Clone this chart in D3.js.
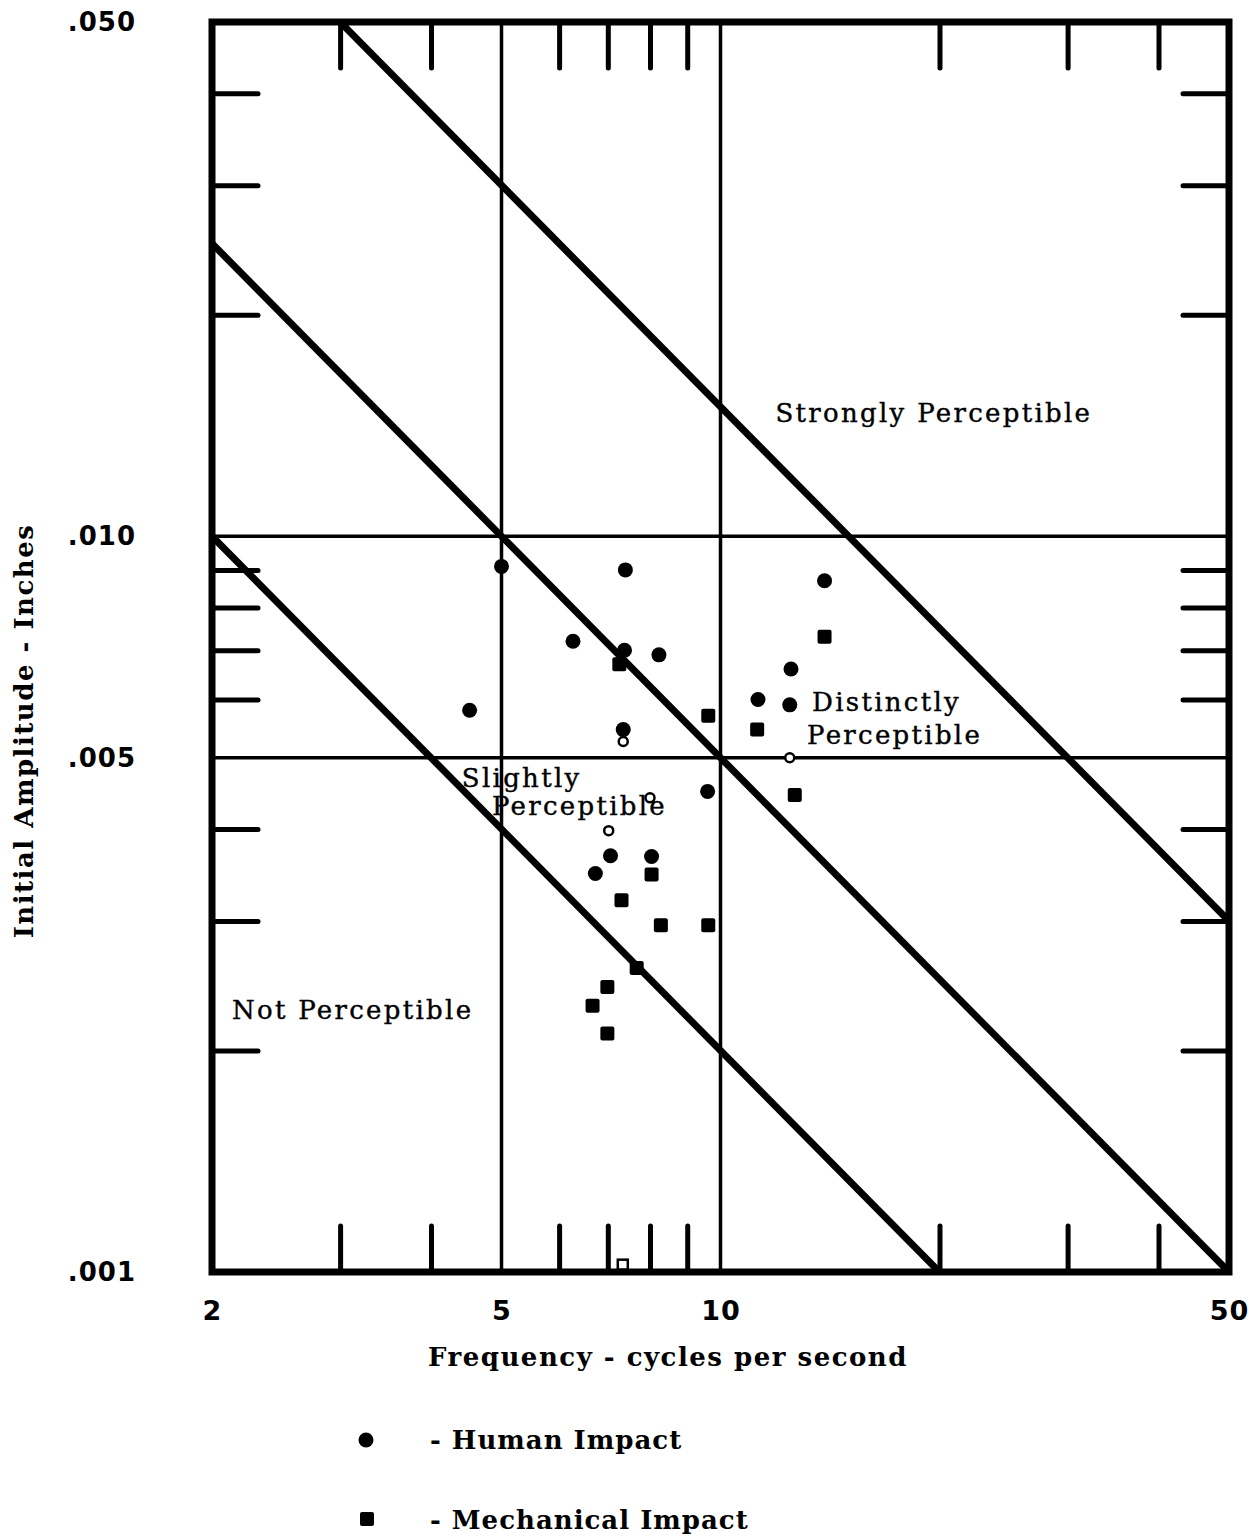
<!DOCTYPE html>
<html>
<head>
<meta charset="utf-8">
<script src="https://cdn.jsdelivr.net/npm/d3@7"></script>
<style>
  body { margin: 0; background: #fff; }
  svg { display: block; }
</style>
</head>
<body>
<svg id="chart"></svg>
<script>
const width = 1249, height = 1538;

// tick values
const xLabelTicks = [2, 5, 10, 50];
const xMinorTicks = [3, 4, 6, 7, 8, 9, 20, 30, 40];
const xGrid = [5, 10];
const yLabelTicks = [0.05, 0.01, 0.005, 0.001];
const yMinorTicks = [0.04, 0.03, 0.02, 0.009, 0.008, 0.007, 0.006, 0.004, 0.003, 0.002];
const yGrid = [0.01, 0.005];

// boundary lines, amplitude * frequency = constant
const boundaryConstants = [0.15, 0.05, 0.02];

// [frequency, amplitude]
const humanImpact = [
    [5.0, 0.0091], [7.4, 0.0090], [13.9, 0.0087], [6.27, 0.0072], [7.38, 0.0070],
    [8.23, 0.0069], [12.5, 0.0066], [4.52, 0.0058], [11.26, 0.0060], [12.45, 0.0059],
    [7.35, 0.00546], [9.6, 0.0045], [7.06, 0.00368], [8.04, 0.00367], [6.73, 0.00348]
];
const mechanicalImpact = [
    [13.9, 0.0073], [7.26, 0.0067], [9.62, 0.0057], [11.23, 0.00546], [12.65, 0.00445],
    [8.04, 0.00347], [7.31, 0.0032], [8.28, 0.00296], [9.62, 0.00296], [7.67, 0.00259],
    [6.99, 0.00244], [6.67, 0.0023], [6.99, 0.00211]
];
// small hollow marks
const humanOpen = [[7.35, 0.00526], [7.02, 0.00398], [8.0, 0.00441], [12.45, 0.0050]];
const mechanicalOpen = [[7.34, 0.00102]];

// region names, anchored at [frequency, amplitude]
const regionNames = ["Strongly Perceptible", "Distinctly", "Perceptible", "Slightly", "Perceptible", "Not Perceptible"];
const regionAnchors = [[11.9, 0.0143], [13.36, 0.00579], [13.15, 0.00522], [4.41, 0.00456], [4.85, 0.00418], [2.13, 0.00221]];

const legendNames = ["- Human Impact", "- Mechanical Impact"];

const svg = d3.select("#chart")
    .attr("width", width)
    .attr("height", height);

svg.append("rect")
    .attr("width", width)
    .attr("height", height)
    .attr("fill", "#fff");

const x = d3.scaleLog().domain([2, 50]).range([212, 1229]);
const y = d3.scaleLog().domain([0.001, 0.05]).range([1272, 22]);

svg.append("defs").append("clipPath")
    .attr("id", "plot-clip")
    .append("rect")
    .attr("x", x(2))
    .attr("y", y(0.05))
    .attr("width", x(50) - x(2))
    .attr("height", y(0.001) - y(0.05));

//////////// GRID ////////////

svg.append("g").selectAll("line")
    .data(xGrid)
    .join("line")
    .attr("x1", d => x(d)).attr("x2", d => x(d))
    .attr("y1", y(0.05)).attr("y2", y(0.001))
    .attr("stroke", "#000")
    .attr("stroke-width", 3.5);

svg.append("g").selectAll("line")
    .data(yGrid)
    .join("line")
    .attr("x1", x(2)).attr("x2", x(50))
    .attr("y1", d => y(d)).attr("y2", d => y(d))
    .attr("stroke", "#000")
    .attr("stroke-width", 3.5);

// inward ticks on all four sides
const tickLen = 46;
function styleTicks(g) {
    g.select(".domain").remove();
    g.selectAll(".tick text").remove();
    g.selectAll(".tick line")
        .attr("stroke", "#000")
        .attr("stroke-width", 5)
        .attr("stroke-linecap", "round");
}

svg.append("g")
    .attr("transform", `translate(0,${y(0.001)})`)
    .call(d3.axisTop(x).tickValues(xMinorTicks).tickSize(tickLen).tickFormat(""))
    .call(styleTicks);
svg.append("g")
    .attr("transform", `translate(0,${y(0.05)})`)
    .call(d3.axisBottom(x).tickValues(xMinorTicks).tickSize(tickLen).tickFormat(""))
    .call(styleTicks);
svg.append("g")
    .attr("transform", `translate(${x(2)},0)`)
    .call(d3.axisRight(y).tickValues(yMinorTicks).tickSize(tickLen).tickFormat(""))
    .call(styleTicks);
svg.append("g")
    .attr("transform", `translate(${x(50)},0)`)
    .call(d3.axisLeft(y).tickValues(yMinorTicks).tickSize(tickLen).tickFormat(""))
    .call(styleTicks);

//////////// BOUNDARY LINES ////////////

const line = d3.line()
    .x(d => x(d[0]))
    .y(d => y(d[1]));

svg.append("g")
    .attr("clip-path", "url(#plot-clip)")
    .selectAll("path")
    .data(boundaryConstants)
    .join("path")
    .attr("d", k => line([[2, k / 2], [50, k / 50]]))
    .attr("fill", "none")
    .attr("stroke", "#000")
    .attr("stroke-width", 7);

//////////// POINTS ////////////

const sq = 14;

svg.append("g").selectAll("circle")
    .data(humanImpact)
    .join("circle")
    .attr("cx", d => x(d[0]))
    .attr("cy", d => y(d[1]))
    .attr("r", 7.5)
    .attr("fill", "#000");

svg.append("g").selectAll("rect")
    .data(mechanicalImpact)
    .join("rect")
    .attr("x", d => x(d[0]) - sq / 2)
    .attr("y", d => y(d[1]) - sq / 2)
    .attr("width", sq)
    .attr("height", sq)
    .attr("rx", 2)
    .attr("fill", "#000");

svg.append("g").selectAll("circle")
    .data(humanOpen)
    .join("circle")
    .attr("cx", d => x(d[0]))
    .attr("cy", d => y(d[1]))
    .attr("r", 4.5)
    .attr("fill", "#fff")
    .attr("stroke", "#000")
    .attr("stroke-width", 2.5);

svg.append("g").selectAll("rect")
    .data(mechanicalOpen)
    .join("rect")
    .attr("x", d => x(d[0]) - 5)
    .attr("y", d => y(d[1]) - 6)
    .attr("width", 10)
    .attr("height", 10)
    .attr("fill", "#fff")
    .attr("stroke", "#000")
    .attr("stroke-width", 2.5);

//////////// FRAME ////////////

svg.append("rect")
    .attr("x", x(2))
    .attr("y", y(0.05))
    .attr("width", x(50) - x(2))
    .attr("height", y(0.001) - y(0.05))
    .attr("fill", "none")
    .attr("stroke", "#000")
    .attr("stroke-width", 7);

//////////// LABELS ////////////

function styleLabels(size) {
    return function (g) {
        g.select(".domain").remove();
        g.selectAll(".tick line").remove();
        g.selectAll(".tick text")
            .attr("fill", "#000")
            .style("font-family", "'DejaVu Sans', sans-serif")
            .style("font-weight", "bold")
            .style("font-size", size)
            .style("letter-spacing", "1px");
    };
}

svg.append("g")
    .attr("transform", `translate(0,${y(0.001)})`)
    .call(d3.axisBottom(x).tickValues(xLabelTicks).tickSize(0).tickPadding(29).tickFormat(d3.format("d")))
    .call(styleLabels("27px"));

svg.append("g")
    .attr("transform", `translate(${x(2)},0)`)
    .call(d3.axisLeft(y).tickValues(yLabelTicks).tickSize(0).tickPadding(76)
        .tickFormat(d => d3.format(".3f")(d).replace(/^0/, "")))
    .call(styleLabels("26px"));

const titleFont = "'DejaVu Serif', serif";

svg.append("text")
    .attr("x", 668)
    .attr("y", 1366)
    .attr("text-anchor", "middle")
    .style("font-family", titleFont)
    .style("font-weight", "bold")
    .style("font-size", "26px")
    .style("letter-spacing", "1.5px")
    .text("Frequency - cycles per second");

svg.append("text")
    .attr("transform", "translate(33,731) rotate(-90)")
    .attr("text-anchor", "middle")
    .style("font-family", titleFont)
    .style("font-weight", "bold")
    .style("font-size", "26px")
    .style("letter-spacing", "1.5px")
    .text("Initial Amplitude - Inches");

svg.append("g").selectAll("text")
    .data(regionNames)
    .join("text")
    .attr("x", (d, i) => x(regionAnchors[i][0]))
    .attr("y", (d, i) => y(regionAnchors[i][1]))
    .style("font-family", titleFont)
    .style("font-size", "26px")
    .style("letter-spacing", "2.3px")
    .attr("stroke", "#000")
    .attr("stroke-width", 0.4)
    .text(d => d);

//////////// LEGEND ////////////

const legend = svg.append("g");

legend.append("circle")
    .attr("cx", 366)
    .attr("cy", 1440)
    .attr("r", 7.5)
    .attr("fill", "#000");

legend.append("rect")
    .attr("x", 367 - sq / 2)
    .attr("y", 1519 - sq / 2)
    .attr("width", sq)
    .attr("height", sq)
    .attr("rx", 2)
    .attr("fill", "#000");

legend.selectAll("text")
    .data(legendNames)
    .join("text")
    .attr("x", 430)
    .attr("y", (d, i) => 1449 + i * 80)
    .style("font-family", titleFont)
    .style("font-weight", "bold")
    .style("font-size", "26px")
    .style("letter-spacing", "1px")
    .text(d => d);
</script>
</body>
</html>
